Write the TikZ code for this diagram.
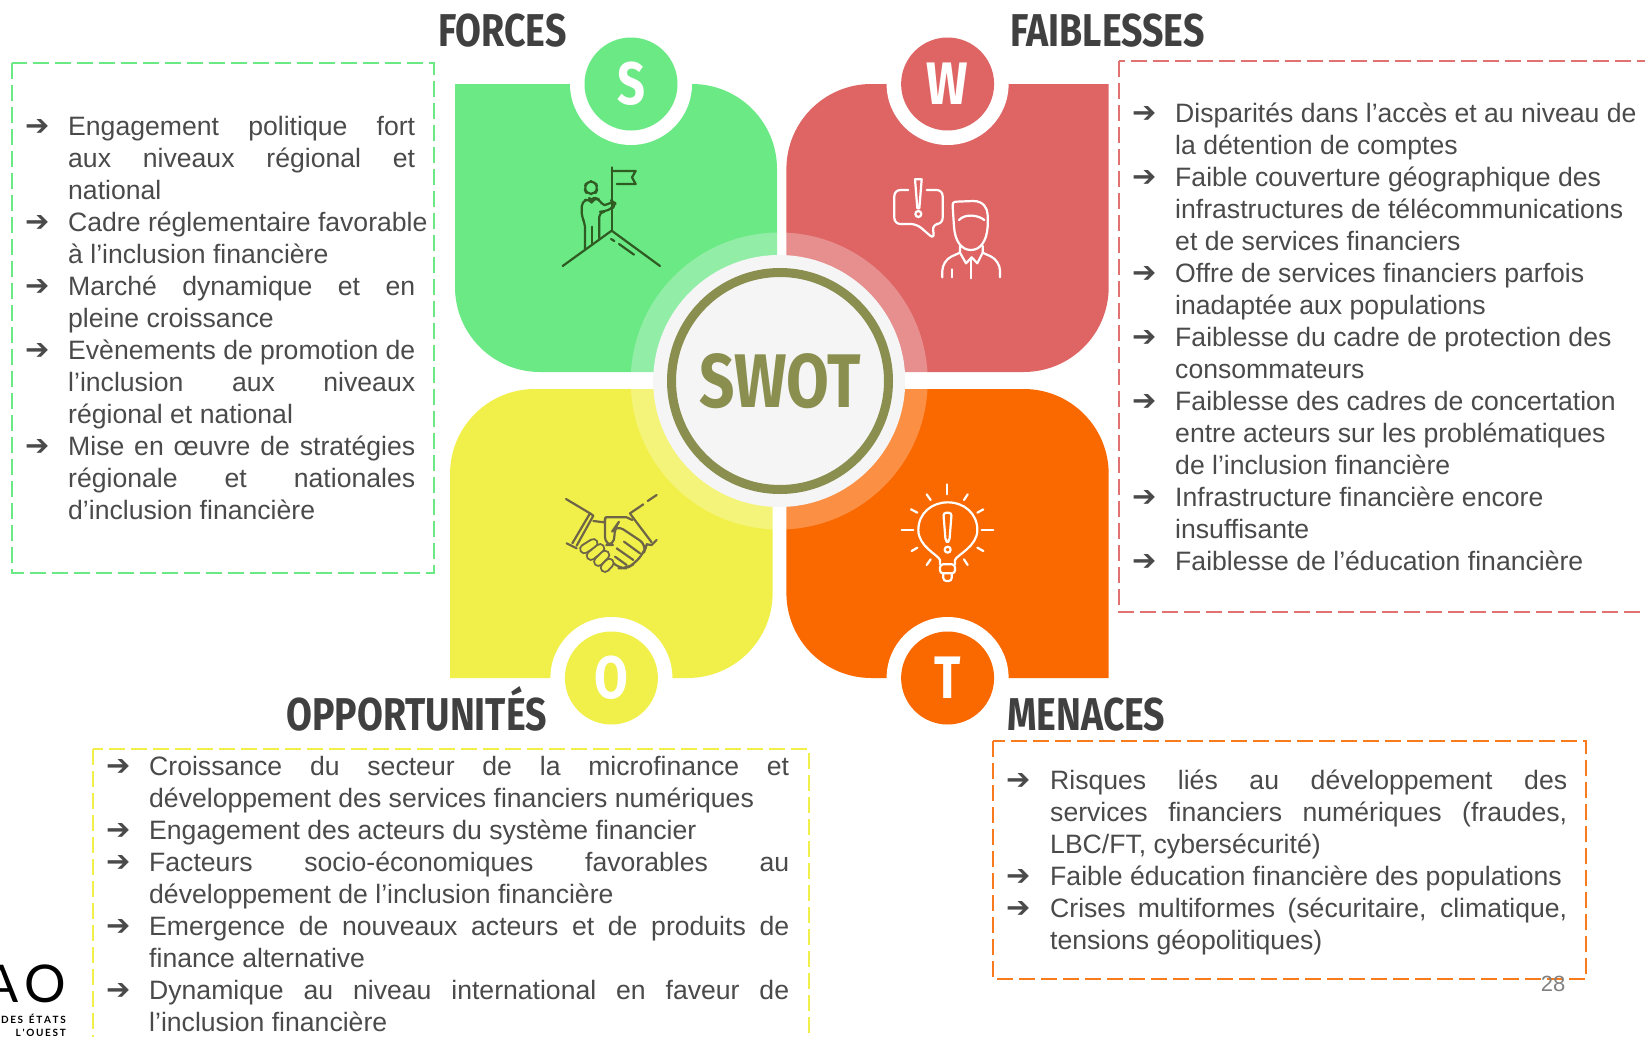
\documentclass[tikz,border=0pt]{standalone}
\usepackage{fontspec}
\setmainfont{Liberation Sans}
\newfontfamily\arrowfont{DejaVu Sans}
\newfontfamily\headfont[FakeStretch=0.815]{Fira Sans}
\newfontfamily\logofont{Lato}
\definecolor{cgreen}{HTML}{6AE985}
\definecolor{cred}{HTML}{DF6565}
\definecolor{cyellow}{HTML}{F1F04A}
\definecolor{corange}{HTML}{FA6800}
\definecolor{colive}{HTML}{8A8F4F}
\definecolor{ccentre}{HTML}{F5F5F5}
\definecolor{chead}{HTML}{404040}
\definecolor{cbody}{HTML}{4A4A4A}
\definecolor{cicong}{HTML}{2F5A22}
\definecolor{ciconb}{HTML}{6E6548}
\definecolor{cdgreen}{HTML}{6AE985}
\definecolor{cdred}{HTML}{E27272}
\definecolor{cdyellow}{HTML}{F1F04A}
\definecolor{cdorange}{HTML}{FA7A1E}
\newlength\jw
\newlength\ind
\newcommand\Jl[1]{\makebox[\jw][s]{#1}}
\newcommand\Ar{\strut\makebox[\ind][l]{{\arrowfont\fontsize{29}{32}\selectfont\symbol{"2794}}}}
\newcommand\Nn{\strut\makebox[\ind][l]{}}
\tikzset{
 dashbox/.style={line width=2pt,dash pattern=on 16pt off 6pt},
 listtext/.style={anchor=north west,inner sep=0pt,align=left,text=cbody,font=\fontsize{26.6}{32}\selectfont},
 headtext/.style={anchor=base west,inner sep=0pt,text=chead,font=\headfont\bfseries\fontsize{46}{50}\selectfont},
 letter/.style={circle,minimum size=93pt,inner sep=0pt,text=white,font=\headfont\bfseries\fontsize{60}{60}\selectfont},
 notch/.style={circle,fill=white,minimum size=122pt,inner sep=0pt},
 icon/.style={line width=2.2pt,line cap=round,line join=round},
}
\begin{document}
\begin{tikzpicture}[x=1pt,y=-1pt]
\useasboundingbox (0,0) rectangle (1645,1036);
\clip (0,0) rectangle (1645,1036);
% quadrants
\fill[cgreen] (455,84) -- (692,84) .. controls (739,84) and (777,122) .. (777,169) -- (777,372) -- (540,372) .. controls (493,372) and (455,334) .. (455,287) -- cycle;
\fill[cred] (1108.7,84) -- (871.4,84) .. controls (824.4,84) and (786.4,122) .. (786.4,169) -- (786.4,372) -- (1023.7,372) .. controls (1070.7,372) and (1108.7,334) .. (1108.7,287) -- cycle;
\fill[cyellow] (450,678) -- (450,474) .. controls (450,427) and (488,389) .. (535,389) -- (772.6,389) -- (772.6,593) .. controls (772.6,640) and (734.6,678) .. (687.6,678) -- cycle;
\fill[corange] (786.4,389) -- (1023.7,389) .. controls (1070.7,389) and (1108.7,427) .. (1108.7,474) -- (1108.7,678) -- (871.4,678) .. controls (824.4,678) and (786.4,640) .. (786.4,593) -- cycle;
% centre
\fill[white,opacity=.27] (779.2,381) circle[radius=148.5pt];
\node[notch] (ns) at (631,84) {};
\node[notch] (nw) at (947.6,84) {};
\node[notch] (no) at (611.4,678) {};
\node[notch] (nt) at (947.6,678) {};
\node[circle,fill=ccentre,minimum size=252pt,inner sep=0pt] (centre) at (779.2,381) {};
\node[circle,draw=colive,line width=9pt,minimum size=217pt,inner sep=0pt,text=colive,font=\headfont\bfseries\fontsize{76}{76}\selectfont] (swot) at (780,381) {SWOT};
\node[letter,fill=cgreen]  (s) at (631,84) {S};
\node[letter,fill=cred]    (w) at (947.6,84) {W};
\node[letter,fill=cyellow] (o) at (611.4,678) {O};
\node[letter,fill=corange] (t) at (947.6,678) {T};
% titles
\node[headtext] (hf) at (438,46) {FORCES};
\node[headtext] (hb) at (1010,46) {FAIBLESSES};
\node[headtext] (hp) at (286,730) {OPPORTUNITÉS};
\node[headtext] (hm) at (1007,730) {MENACES};
% boxes
\draw[dashbox,draw=cdgreen]  (12,63) rectangle (433.5,573);
\draw[dashbox,draw=cdred]    (1119,61) rectangle (1660,612);
\draw[dashbox,draw=cdyellow] (93,749) rectangle (809,1050);
\draw[dashbox,draw=cdorange] (993,741) rectangle (1586,979);
% lists
\node[listtext] (lf) at (25,112.6) {\global\jw=347pt\global\ind=43pt%
\Ar\Jl{Engagement politique fort}\\
\Nn\Jl{aux niveaux régional et}\\
\Nn national\\
\Ar Cadre réglementaire favorable\\
\Nn à l’inclusion financière\\
\Ar\Jl{Marché dynamique et en}\\
\Nn pleine croissance\\
\Ar\Jl{Evènements de promotion de}\\
\Nn\Jl{l’inclusion aux niveaux}\\
\Nn régional et national\\
\Ar\Jl{Mise en œuvre de stratégies}\\
\Nn\Jl{régionale et nationales}\\
\Nn d’inclusion financière};
\node[listtext] (lb) at (1132,99.5) {\global\ind=43pt%
\Ar Disparités dans l’accès et au niveau de\\
\Nn la détention de comptes\\
\Ar Faible couverture géographique des\\
\Nn infrastructures de télécommunications\\
\Nn et de services financiers\\
\Ar Offre de services financiers parfois\\
\Nn inadaptée aux populations\\
\Ar Faiblesse du cadre de protection des\\
\Nn consommateurs\\
\Ar Faiblesse des cadres de concertation\\
\Nn entre acteurs sur les problématiques\\
\Nn de l’inclusion financière\\
\Ar Infrastructure financière encore\\
\Nn insuffisante\\
\Ar Faiblesse de l'éducation financière};
\node[listtext] (lp) at (106,752.8) {\global\jw=640pt\global\ind=43pt%
\Ar\Jl{Croissance du secteur de la microfinance et}\\
\Nn développement des services financiers numériques\\
\Ar Engagement des acteurs du système financier\\
\Ar\Jl{Facteurs socio-économiques favorables au}\\
\Nn développement de l'inclusion financière\\
\Ar\Jl{Emergence de nouveaux acteurs et de produits de}\\
\Nn finance alternative\\
\Ar\Jl{Dynamique au niveau international en faveur de}\\
\Nn l’inclusion financière};
\node[listtext] (lm) at (1006,766.5) {\global\jw=517pt\global\ind=44pt%
\Ar\Jl{Risques liés au développement des}\\
\Nn\Jl{services financiers numériques (fraudes,}\\
\Nn LBC/FT, cybersécurité)\\
\Ar Faible éducation financière des populations\\
\Ar\Jl{Crises multiformes (sécuritaire, climatique,}\\
\Nn tensions géopolitiques)};
% page number and logo
\node[anchor=base,inner sep=0pt,text=black!50,font=\fontsize{22}{24}\selectfont] (pg) at (1553,991) {28};
\node[anchor=base east,inner sep=0pt,text=black,font=\logofont\fontsize{52}{52}\selectfont] (lg) at (66,1002) {A\hspace{5pt}O};
\node[anchor=base east,inner sep=0pt,text=black,font=\logofont\bfseries\fontsize{10}{10}\selectfont] (lg2) at (66,1023) {D\,E\,S\, \,É\,T\,A\,T\,S};
\node[anchor=base east,inner sep=0pt,text=black,font=\logofont\bfseries\fontsize{10}{10}\selectfont] (lg3) at (66,1036) {L\,'\,O\,U\,E\,S\,T};
% mountain icon
\begin{scope}[shift={(550,160)},x=.3333pt,y=-.3333pt,icon,draw=cicong]
\draw (38,318) -- (185,212) -- (330,318);
\draw (183,237) -- (193,243);
\draw (207,252) -- (252,284);
\draw (185,212) -- (185,22);
\draw (185,33) -- (257,33) -- (246,52) -- (257,72) -- (200,72);
\draw[rounded corners=5pt] (110,102) -- (103,85) -- (110,64) -- (136,64) -- (143,85) -- (136,102) -- cycle;
\draw[rounded corners=5pt] (105,268) -- (105,190) -- (95,170) -- (95,125) -- (118,115) -- (125,127) -- (132,113) -- (148,118) -- (162,142) -- (185,122) -- (195,130) -- (190,142) -- (165,155) -- (148,155) -- (148,235);
\draw (127,200) -- (127,250);
\end{scope}
% speech and person icon
\begin{scope}[shift={(885,170)},x=.3333pt,y=-.3333pt,icon,draw=white]
\draw[rounded corners=6pt] (70,60) -- (28,60) -- (28,162) -- (95,162) -- (148,208) -- (142,162) -- (173,162) -- (173,60) -- (125,60);
\draw (90,28) -- (110,28) -- (103,115) -- (97,115) -- cycle;
\draw (100,132) circle[radius=9];
\draw (207,170) -- (203,110) .. controls (202,100) and (205,95) .. (215,95) -- (265,93) .. controls (295,93) and (308,115) .. (308,135) -- (308,170) .. controls (305,215) and (285,240) .. (258,240) .. controls (230,240) and (210,215) .. (207,170);
\draw (222,150) .. controls (240,130) and (280,135) .. (298,150);
\draw (225,228) -- (225,248) -- (243,280) -- (260,262) -- (277,280) -- (293,248) -- (293,228);
\draw[rounded corners=10pt] (172,322) -- (172,272) -- (225,248);
\draw[rounded corners=10pt] (345,322) -- (345,272) -- (293,248);
\draw (258,268) -- (258,325);
\draw (200,298) -- (200,322);
\end{scope}
% handshake icon
\begin{scope}[shift={(555,485)},x=.3333pt,y=-.3333pt,icon,draw=ciconb]
\draw (33,42) -- (105,85) -- (115,92) -- (65,182);
\draw (105,85) -- (52,175);
\draw (35,175) -- (65,190);
\draw (305,30) -- (278,48);
\draw (265,58) -- (225,85) -- (232,95) -- (290,172);
\draw (275,178) -- (290,180) -- (305,165);
\draw (115,108) -- (148,112) -- (152,97) -- (215,97) -- (232,105);
\draw[rounded corners=8pt] (150,100) -- (150,180) -- (178,180) -- (178,130) -- (185,120) -- (275,180) -- (268,200) -- (240,235) -- (215,250) -- (190,250) -- (172,232);
\draw (207,170) -- (255,205);
\draw (185,190) -- (235,225);
\draw (180,215) -- (215,240);
\foreach \a/\b/\c/\d in {88/192/115/175,108/212/135/190,130/230/150/210,150/248/163/234}{
 \draw[line width=2pt,double=cyellow,double distance=6.5pt] (\a,\b) -- (\c,\d);}
\end{scope}
% bulb icon
\begin{scope}[shift={(890,475)},x=.3333pt,y=-.3333pt,icon,draw=white]
\draw (150,268) -- (150,255) .. controls (145,240) and (85,215) .. (85,165) .. controls (85,115) and (125,82) .. (173,82) .. controls (222,82) and (262,115) .. (262,165) .. controls (262,215) and (200,240) .. (195,255) -- (195,268);
\draw[rounded corners=3pt] (150,268) -- (195,268) -- (195,295) -- (150,295) -- cycle;
\draw[rounded corners=3pt] (160,295) -- (160,318) -- (185,318) -- (185,295);
\draw[rounded corners=3pt] (160,113) -- (185,113) -- (178,200) -- (167,200) -- cycle;
\draw (173,224) circle[radius=9];
\foreach \a/\b/\c/\d in {172/28/172/58,110/58/122/75,233/58/222/75,63/103/82/113,280/103/262/113,35/165/70/165,275/165/310/165,65/228/82/218,280/228/262/218,110/270/122/253,233/270/222/253}{
 \draw (\a,\b) -- (\c,\d);}
\end{scope}
\end{tikzpicture}
\end{document}
